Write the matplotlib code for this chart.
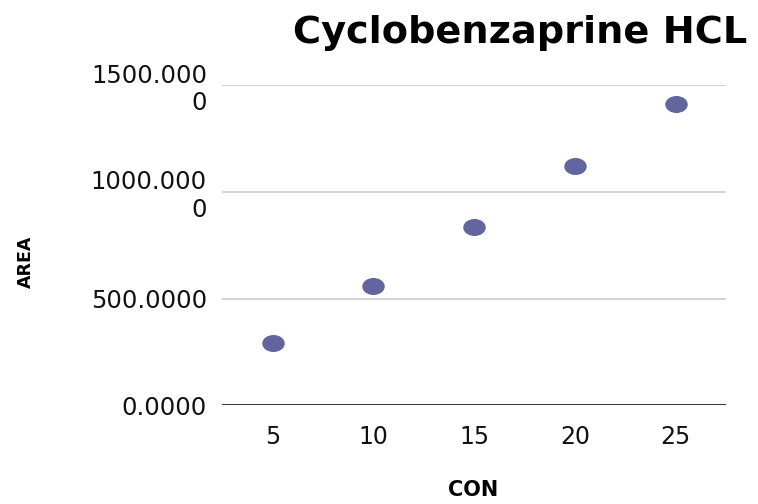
import matplotlib.pyplot as plt
from matplotlib.path import Path
from matplotlib.transforms import Affine2D

con = [5, 10, 15, 20, 25]
area = [290, 558, 834, 1120, 1410]
y_ticks = [0, 500, 1000, 1500]
y_tick_labels = ["0.0000", "500.0000", "1000.000\n0", "1500.000\n0"]

plt.rcParams["font.family"] = ["DejaVu Sans"]

fig = plt.figure(figsize=(7.58, 5.04), dpi=100)
ax = fig.add_axes([0.293, 0.196, 0.665, 0.635])

# slightly wide ellipse marker, like the original
ellipse = Path.unit_circle().transformed(Affine2D().scale(1.35, 1.0))
ax.scatter(con, area, s=230, marker=ellipse, color="#63659e", zorder=3)

ax.set_xlim(2.5, 27.5)
ax.set_ylim(0, 1500)
ax.set_xticks(con)
ax.set_yticks(y_ticks)
ax.set_yticklabels(y_tick_labels, multialignment="right")

ax.grid(axis="y", color="#cccccc", linewidth=1.2)
ax.axhline(0, color="#333333", linewidth=1.4, zorder=2)
for s in ax.spines.values():
    s.set_visible(False)
ax.tick_params(axis="both", length=0, labelsize=17.5, colors="#111111")
ax.tick_params(axis="x", labelsize=17, pad=14)
ax.tick_params(axis="y", pad=11)

fig.text(0.686, 0.935, "Cyclobenzaprine HCL", ha="center", va="center",
         fontsize=27.5, fontweight="bold")
fig.text(0.034, 0.48, "AREA", rotation=90, ha="center", va="center",
         fontsize=12.5, fontweight="bold")
fig.text(0.624, 0.028, "CON", ha="center", va="center",
         fontsize=15, fontweight="bold")

plt.savefig("out.png", dpi=100)
